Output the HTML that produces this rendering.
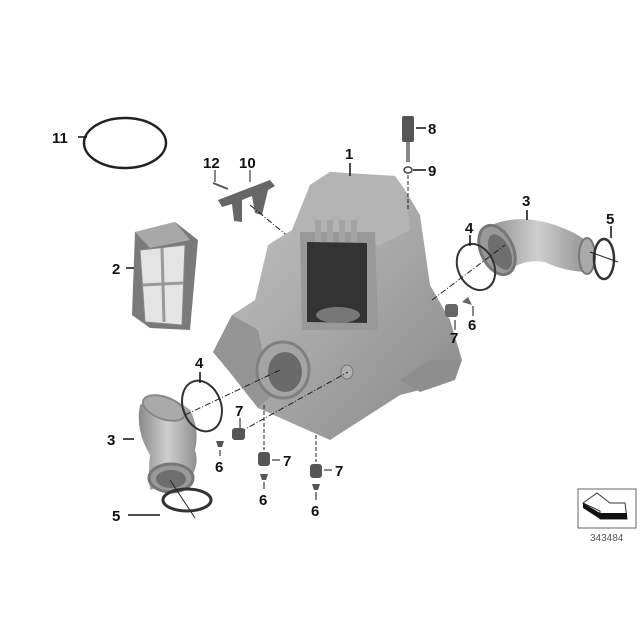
<!DOCTYPE html>
<html><head><style>
body{margin:0;background:#fff}
svg{display:block}
text{font-family:"Liberation Sans",sans-serif;font-weight:bold;font-size:15px;fill:#111}
</style></head><body>
<svg width="640" height="640" viewBox="0 0 640 640">
<defs>
<linearGradient id="g1" x1="0" y1="0" x2="1" y2="1"><stop offset="0" stop-color="#c4c4c4"/><stop offset="0.5" stop-color="#a8a8a8"/><stop offset="1" stop-color="#888"/></linearGradient>
<linearGradient id="g2" x1="0" y1="0" x2="1" y2="0"><stop offset="0" stop-color="#8a8a8a"/><stop offset="0.5" stop-color="#cfcfcf"/><stop offset="1" stop-color="#909090"/></linearGradient>
</defs>
<ellipse cx="125" cy="143" rx="41" ry="25" fill="none" stroke="#222" stroke-width="2.5"/>
<line x1="78" y1="137" x2="87" y2="137" stroke="#111" stroke-width="1.5"/>
<polygon points="135,232 175,222 198,240 190,330 150,328 132,315" fill="#7a7a7a"/>
<polygon points="135,232 175,222 190,240 150,248" fill="#a8a8a8"/>
<polygon points="140,250 185,245 182,325 145,322" fill="#e4e4e4" stroke="#888"/>
<line x1="162" y1="248" x2="164" y2="322" stroke="#999" stroke-width="3"/>
<line x1="142" y1="285" x2="183" y2="283" stroke="#999" stroke-width="3"/>
<line x1="126" y1="268" x2="134" y2="268" stroke="#111" stroke-width="1.5"/>
<polygon points="218,200 270,180 275,186 268,190 262,215 255,213 252,196 242,200 242,222 234,221 232,204 222,207" fill="#666"/>
<line x1="213" y1="183" x2="228" y2="189" stroke="#555" stroke-width="2"/>
<line x1="250" y1="205" x2="290" y2="238" stroke="#222" stroke-width="1" stroke-dasharray="6,2,1,2"/>
<line x1="215" y1="170" x2="215" y2="182" stroke="#111"/>
<line x1="250" y1="170" x2="250" y2="182" stroke="#111"/>
<polygon points="310,185 330,172 395,176 405,190 420,215 430,285 450,320 462,360 440,385 400,395 330,440 258,408 228,370 213,352 232,315 255,300 268,245 292,230" fill="url(#g1)"/>
<polygon points="292,230 310,185 330,172 395,176 405,190 410,230 380,245 300,240" fill="#b4b4b4"/>
<polygon points="300,232 375,232 378,330 302,330" fill="#999"/>
<polygon points="307,242 367,243 367,323 307,322" fill="#333"/>
<ellipse cx="338" cy="315" rx="22" ry="8" fill="#777"/>
<g fill="#a4a4a4"><rect x="315" y="220" width="6" height="22"/><rect x="327" y="220" width="6" height="22"/><rect x="339" y="220" width="6" height="22"/><rect x="351" y="220" width="6" height="22"/></g>
<polygon points="232,315 258,330 272,395 258,408 228,370 213,352" fill="#959595"/>
<polygon points="400,380 430,360 462,360 455,380 420,392" fill="#8e8e8e"/>
<ellipse cx="283" cy="370" rx="26" ry="28" fill="#a4a4a4" stroke="#808080" stroke-width="3"/>
<ellipse cx="285" cy="372" rx="17" ry="20" fill="#6a6a6a"/>
<ellipse cx="347" cy="372" rx="6" ry="7" fill="#b0b0b0" stroke="#777"/>
<line x1="350" y1="163" x2="350" y2="176" stroke="#111" stroke-width="1.5"/>
<rect x="402" y="116" width="12" height="26" rx="2" fill="#555"/>
<rect x="406" y="142" width="4" height="20" fill="#888"/>
<ellipse cx="408" cy="170" rx="4" ry="3" fill="none" stroke="#444" stroke-width="1.5"/>
<line x1="408" y1="175" x2="408" y2="210" stroke="#222" stroke-dasharray="4,2"/>
<line x1="416" y1="128" x2="426" y2="128" stroke="#111" stroke-width="1.5"/>
<line x1="413" y1="170" x2="426" y2="170" stroke="#111" stroke-width="1.5"/>
<path d="M485,228 Q515,212 555,225 Q575,232 585,240 L590,272 Q565,272 545,262 Q520,258 505,275 Z" fill="url(#g2)"/>
<ellipse cx="497" cy="250" rx="16" ry="26" transform="rotate(-25 497 250)" fill="#999" stroke="#777" stroke-width="3"/>
<ellipse cx="500" cy="252" rx="10" ry="19" transform="rotate(-25 500 252)" fill="#6e6e6e"/>
<ellipse cx="587" cy="256" rx="8" ry="18" fill="#aaa" stroke="#777" stroke-width="2"/>
<line x1="527" y1="210" x2="527" y2="220" stroke="#111" stroke-width="1.5"/>
<ellipse cx="476" cy="267" rx="18" ry="24" transform="rotate(-25 476 267)" fill="none" stroke="#333" stroke-width="2"/>
<line x1="470" y1="235" x2="470" y2="246" stroke="#111" stroke-width="1.5"/>
<line x1="432" y1="300" x2="505" y2="245" stroke="#222" stroke-dasharray="6,2,1,2"/>
<ellipse cx="604" cy="259" rx="10" ry="20" fill="none" stroke="#333" stroke-width="2.5"/>
<line x1="590" y1="252" x2="618" y2="262" stroke="#222"/>
<line x1="611" y1="226" x2="611" y2="238" stroke="#111" stroke-width="1.5"/>
<rect x="445" y="304" width="13" height="13" rx="3" fill="#666"/>
<path d="M462,302 l6,-5 l4,8 z" fill="#666"/>
<line x1="455" y1="320" x2="455" y2="330" stroke="#111"/>
<line x1="473" y1="306" x2="473" y2="316" stroke="#111"/>
<path d="M140,405 Q165,388 190,410 Q200,430 195,450 Q200,465 190,478 L150,490 Q148,470 150,455 Q135,430 140,405 Z" fill="url(#g2)"/>
<ellipse cx="164" cy="408" rx="22" ry="11" transform="rotate(20 164 408)" fill="#aaa" stroke="#888" stroke-width="2"/>
<ellipse cx="171" cy="478" rx="22" ry="14" fill="#999" stroke="#777" stroke-width="3"/>
<ellipse cx="171" cy="479" rx="15" ry="9" fill="#6e6e6e"/>
<line x1="123" y1="439" x2="134" y2="439" stroke="#111" stroke-width="1.5"/>
<ellipse cx="202" cy="406" rx="19" ry="26" transform="rotate(-20 202 406)" fill="none" stroke="#333" stroke-width="2"/>
<line x1="200" y1="372" x2="200" y2="383" stroke="#111" stroke-width="1.5"/>
<line x1="185" y1="415" x2="280" y2="370" stroke="#222" stroke-dasharray="6,2,1,2"/>
<ellipse cx="187" cy="500" rx="24" ry="11" fill="none" stroke="#333" stroke-width="3"/>
<line x1="170" y1="480" x2="195" y2="518" stroke="#222"/>
<line x1="128" y1="515" x2="160" y2="515" stroke="#111" stroke-width="1.5"/>
<line x1="240" y1="432" x2="348" y2="372" stroke="#222" stroke-dasharray="6,2,1,2"/>
<rect x="232" y="428" width="13" height="12" rx="3" fill="#555"/>
<path d="M216,441 h8 l-2,6 h-4 z" fill="#555"/>
<line x1="240" y1="418" x2="240" y2="428" stroke="#111"/>
<line x1="220" y1="450" x2="220" y2="456" stroke="#111"/>
<line x1="264" y1="405" x2="264" y2="450" stroke="#222" stroke-dasharray="4,2"/>
<rect x="258" y="452" width="12" height="14" rx="3" fill="#555"/>
<path d="M260,474 h8 l-2,6 h-4 z" fill="#555"/>
<line x1="272" y1="460" x2="280" y2="460" stroke="#111"/>
<line x1="264" y1="482" x2="264" y2="489" stroke="#111"/>
<line x1="316" y1="435" x2="316" y2="462" stroke="#222" stroke-dasharray="4,2"/>
<rect x="310" y="464" width="12" height="14" rx="3" fill="#555"/>
<path d="M312,484 h8 l-2,6 h-4 z" fill="#555"/>
<line x1="324" y1="470" x2="332" y2="470" stroke="#111"/>
<line x1="316" y1="492" x2="316" y2="500" stroke="#111"/>
<text x="52" y="143">11</text>
<text x="203" y="168">12</text>
<text x="239" y="168">10</text>
<text x="345" y="159">1</text>
<text x="428" y="134">8</text>
<text x="428" y="176">9</text>
<text x="522" y="206">3</text>
<text x="606" y="224">5</text>
<text x="465" y="233">4</text>
<text x="112" y="274">2</text>
<text x="468" y="330">6</text>
<text x="450" y="343">7</text>
<text x="195" y="368">4</text>
<text x="235" y="416">7</text>
<text x="107" y="445">3</text>
<text x="215" y="472">6</text>
<text x="283" y="466">7</text>
<text x="335" y="476">7</text>
<text x="259" y="505">6</text>
<text x="311" y="516">6</text>
<text x="112" y="521">5</text>
<rect x="578" y="489" width="58" height="39" fill="#fff" stroke="#666"/>
<polygon points="583,503 597,493 610,503 625,503 627,519 600,519 600,511" fill="#fff" stroke="#333"/>
<polygon points="583,503 600,513 600,519 583,508" fill="#111"/>
<rect x="600" y="513" width="27" height="6" fill="#111"/>
<text x="590" y="541" style="font-weight:normal;font-size:10px;fill:#555">343484</text>
</svg>
</body></html>
